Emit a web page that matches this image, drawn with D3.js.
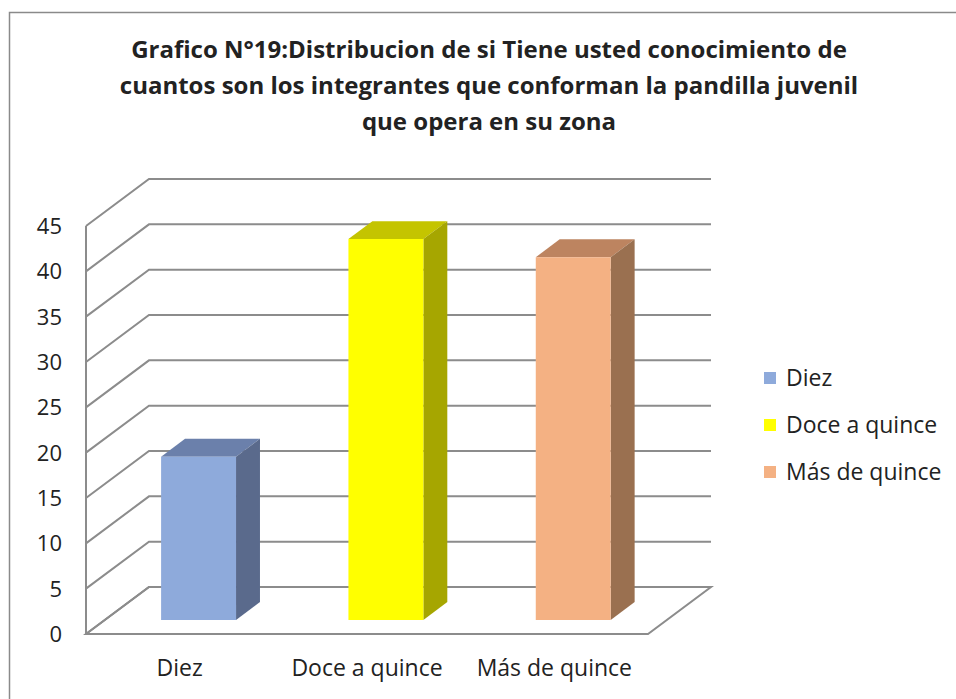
<!DOCTYPE html>
<html>
<head>
<meta charset="utf-8">
<script src="https://cdn.jsdelivr.net/npm/d3@7"></script>
<style>
  body { margin: 0; background: #fff; }
  svg { display: block; }
  text { font-family: "Open Sans", "Liberation Sans", Arial, sans-serif; fill: #222; }
</style>
</head>
<body>
<div id="chart"></div>
<script>
var categories = ["Diez", "Doce a quince", "Más de quince"];
var values = [18, 42, 40];
var yTicks = [0, 5, 10, 15, 20, 25, 30, 35, 40, 45];
var titleLines = [
  "Grafico N°19:Distribucion de si Tiene usted conocimiento de",
  "cuantos son los integrantes que conforman  la pandilla juvenil",
  "que opera en su zona"
];
var colors = [
  { front: "#8eaadb", top: "#6b80ab", side: "#5a6a8c" },
  { front: "#ffff00", top: "#c4c400", side: "#a6a600" },
  { front: "#f4b183", top: "#bd8460", side: "#9a7050" }
];

var width = 956,
  height = 699;

var svg = d3
  .select("#chart")
  .append("svg")
  .attr("width", width)
  .attr("height", height);

// chart frame
svg
  .append("rect")
  .attr("x", 9.5)
  .attr("y", 12.5)
  .attr("width", 1000)
  .attr("height", 800)
  .style("fill", "none")
  .style("stroke", "#8a8a8a")
  .style("stroke-width", 1.5);

// 3d box: front plane + depth vector
var front = { left: 86, right: 648, bottom: 634, top: 226 };
var depth = { dx: 63, dy: -47 };
var barDepth = { from: 0.3, to: 0.68 };

var x = d3
  .scaleBand()
  .domain(categories)
  .range([front.left, front.right])
  .paddingInner(0.6)
  .paddingOuter(0.3);

var y = d3
  .scaleLinear()
  .domain([0, 45])
  .range([front.bottom, front.top]);

var pt = function(px, py, f) {
  return [px + depth.dx * f, py + depth.dy * f];
};
var poly = function(pts) {
  return pts.map(p => p.join(",")).join(" ");
};

var grid = svg.append("g").style("fill", "none").style("stroke", "#8c8c8c").style("stroke-width", 2);

// floor
grid
  .append("polygon")
  .attr("points", poly([
    pt(front.left, y(0), 0),
    pt(front.right, y(0), 0),
    pt(front.right, y(0), 1),
    pt(front.left, y(0), 1)
  ]));

// gridlines on back + side wall
grid
  .selectAll("polyline")
  .data(yTicks)
  .enter()
  .append("polyline")
  .attr("points", d => poly([
    pt(front.left, y(d), 0),
    pt(front.left, y(d), 1),
    pt(front.right, y(d), 1)
  ]));

// front vertical axis
grid
  .append("line")
  .attr("x1", front.left)
  .attr("x2", front.left)
  .attr("y1", y(0))
  .attr("y2", y(45));

// tick labels
svg
  .append("g")
  .selectAll("text")
  .data(yTicks)
  .enter()
  .append("text")
  .attr("x", 62)
  .attr("y", d => y(d) + 8)
  .attr("text-anchor", "end")
  .style("font-size", "22px")
  .text(d => d);

// bars
var bars = svg
  .append("g")
  .selectAll("g")
  .data(categories)
  .enter()
  .append("g");

bars.each(function(c, i) {
  var g = d3.select(this);
  var x0 = x(c),
    x1 = x(c) + x.bandwidth();
  var yb = y(0),
    yt = y(values[i]);
  var f0 = barDepth.from,
    f1 = barDepth.to;
  g.append("polygon")
    .attr("points", poly([pt(x0, yt, f0), pt(x1, yt, f0), pt(x1, yt, f1), pt(x0, yt, f1)]))
    .style("fill", colors[i].top);
  g.append("polygon")
    .attr("points", poly([pt(x1, yt, f0), pt(x1, yt, f1), pt(x1, yb, f1), pt(x1, yb, f0)]))
    .style("fill", colors[i].side);
  g.append("polygon")
    .attr("points", poly([pt(x0, yt, f0), pt(x1, yt, f0), pt(x1, yb, f0), pt(x0, yb, f0)]))
    .style("fill", colors[i].front);
});

// category labels
svg
  .append("g")
  .selectAll("text")
  .data(categories)
  .enter()
  .append("text")
  .attr("x", d => x(d) + x.bandwidth() / 2)
  .attr("y", 676)
  .attr("text-anchor", "middle")
  .style("font-size", "23px")
  .text(d => d);

// legend
var legend = svg
  .append("g")
  .selectAll("g")
  .data(categories)
  .enter()
  .append("g")
  .attr("transform", (d, i) => `translate(764, ${378 + i * 47})`);

legend
  .append("rect")
  .attr("x", 0)
  .attr("y", -6)
  .attr("width", 12)
  .attr("height", 12)
  .style("fill", (d, i) => colors[i].front);

legend
  .append("text")
  .attr("x", 22)
  .attr("y", 8)
  .style("font-size", "23px")
  .text(d => d);

// title
svg
  .append("g")
  .selectAll("text")
  .data(titleLines)
  .enter()
  .append("text")
  .attr("x", 489)
  .attr("y", (d, i) => 58 + i * 36)
  .attr("text-anchor", "middle")
  .style("font-weight", "bold")
  .style("font-size", "24px")
  .text(d => d);
</script>
</body>
</html>
